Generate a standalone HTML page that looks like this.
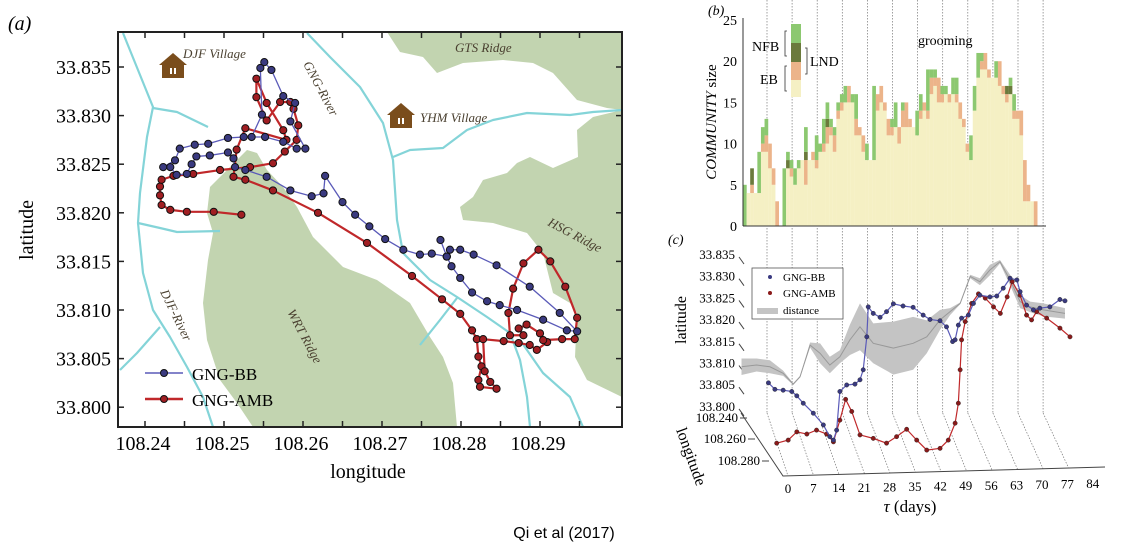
<!DOCTYPE html>
<html><head><meta charset="utf-8"><style>
html,body{margin:0;padding:0;background:#fff;}
svg{display:block;font-family:"Liberation Serif",serif;}
</style></head><body>
<svg id="fig" width="1128" height="550" viewBox="0 0 1128 550" xmlns="http://www.w3.org/2000/svg">
<g>
<text x="8" y="30" font-size="20" font-style="italic">(a)</text>
<rect x="118" y="32" width="504" height="395" fill="#fff"/>
<g fill="#c2d4b0" stroke="none">
<polygon points="387,32 622,32 622,110 607,108 577,100 553,73 533,63 503,60 463,63 437,73 423,57 400,52"/>
<polygon points="622,110 593,117 577,130 578,157 553,168 530,157 517,163 507,173 483,180 473,197 460,207 463,220 493,223 527,233 543,253 553,293 570,303 577,313 575,357 587,380 622,397"/>
<polygon points="247,150 257,153 267,170 283,187 297,207 313,237 343,267 377,280 410,303 430,337 443,357 453,383 457,427 253,427 237,403 220,380 207,340 203,303 208,260 213,233 207,213 210,187 227,170"/>
</g>
<g fill="none" stroke="#84d4d8" stroke-width="2.2" stroke-linejoin="round">
<polyline points="123,33 153,107 147,137 140,193 138,223 143,273 153,310 170,337 187,367 203,397 213,427"/>
<polyline points="153,108 177,112 208,127"/>
<polyline points="138,223 160,228 177,232 220,231"/>
<polyline points="160,327 137,353 120,370"/>
<polyline points="307,33 330,57 360,87 383,123 393,160 397,220 403,253 430,280 457,297 487,317 510,333 520,360 527,397 530,427"/>
<polyline points="393,157 410,150 443,148 467,130 493,120 527,113 570,115 593,112 622,110"/>
<polyline points="457,298 440,320 420,345"/>
<polyline points="520,340 543,373 570,397 583,427"/>
</g>
<g fill="#7a4d1c">
<polygon points="159,65 173,53 187,65"/><rect x="162" y="64" width="22" height="14"/>
<rect x="170" y="68" width="2" height="6" fill="#fff"/><rect x="174" y="68" width="2" height="6" fill="#fff"/>
</g>
<g fill="#7a4d1c">
<polygon points="387,115 401,103 415,115"/><rect x="390" y="114" width="22" height="14"/>
<rect x="398" y="118" width="2" height="6" fill="#fff"/><rect x="402" y="118" width="2" height="6" fill="#fff"/>
</g>
<g font-style="italic" font-size="13" fill="#4a4030">
<text x="183" y="58">DJF Village</text>
<text x="455" y="52">GTS Ridge</text>
<text x="420" y="122">YHM Village</text>
<text x="0" y="0" transform="translate(303,64) rotate(62)">GNG-River</text>
<text x="0" y="0" transform="translate(547,225) rotate(28)">HSG Ridge</text>
<text x="0" y="0" transform="translate(287,312) rotate(62)">WRT Ridge</text>
<text x="0" y="0" transform="translate(160,292) rotate(64)">DJF-River</text>
</g>
<g id="mapTracks"></g>
<g id="mapAxes"></g>
<rect x="118" y="32" width="504" height="395" fill="none" stroke="#222" stroke-width="2"/>
<g>
<line x1="145" y1="373" x2="183" y2="373" stroke="#5a5ab8" stroke-width="1.5"/>
<circle cx="164" cy="373" r="3.5" fill="#3a3a80" stroke="#111"/>
<text x="192" y="380" font-size="17">GNG-BB</text>
<line x1="145" y1="399" x2="183" y2="399" stroke="#c0282a" stroke-width="2.5"/>
<circle cx="164" cy="399" r="3.5" fill="#a01e22" stroke="#111"/>
<text x="192" y="406" font-size="17">GNG-AMB</text>
</g>
<text x="0" y="0" transform="translate(33,230) rotate(-90)" font-size="20" text-anchor="middle">latitude</text>
<text x="368" y="478" font-size="20" text-anchor="middle">longitude</text>
</g>

<g>
<text x="708" y="15" font-size="14" font-style="italic">(b)</text>
<g id="gridLines"></g>
<g id="bars"></g>
<g id="barAxes"></g>
<text x="0" y="0" transform="translate(716,122) rotate(-90)" font-size="15" text-anchor="middle"><tspan font-style="italic">COMMUNITY</tspan> size</text>
<text x="918" y="45" font-size="14">grooming</text>
<g>
<rect x="791" y="24" width="10" height="19" fill="#8cc870"/>
<rect x="791" y="43" width="10" height="19" fill="#6b7a3c"/>
<rect x="791" y="62" width="10" height="18" fill="#ecb48a"/>
<rect x="791" y="80" width="10" height="17" fill="#f5f0c4"/>
<path d="M787,31 h-2 v25 h2 M787,66 h-2 v25 h2 M805,48 h2 v26 h-2" fill="none" stroke="#333" stroke-width="0.8"/>
<text x="752" y="51" font-size="14">NFB</text>
<text x="760" y="84" font-size="14">EB</text>
<text x="810" y="66" font-size="14">LND</text>
</g>
</g>

<g>
<text x="668" y="244" font-size="14" font-style="italic">(c)</text>
<g id="cAxes"></g>
<g id="cSeries"></g>
<g>
<rect x="752" y="268" width="91" height="51" fill="#fff" stroke="#555" stroke-width="0.8"/>
<circle cx="770" cy="277" r="2" fill="#3a3a80"/>
<text x="783" y="281" font-size="11">GNG-BB</text>
<circle cx="770" cy="293" r="2" fill="#8a1a1a"/>
<text x="783" y="297" font-size="11">GNG-AMB</text>
<rect x="757" y="308" width="21" height="6" fill="#c4c4c4"/>
<text x="783" y="314" font-size="11">distance</text>
</g>
<text x="0" y="0" transform="translate(686,320) rotate(-90)" font-size="16" text-anchor="middle">latitude</text>
<text x="0" y="0" transform="translate(676,430) rotate(70)" font-size="16">longitude</text>
<text x="910" y="512" font-size="17" text-anchor="middle"><tspan font-style="italic">τ</tspan> (days)</text>
</g>
<text x="564" y="538" font-size="16" text-anchor="middle" style="font-family:'Liberation Sans',sans-serif">Qi et al (2017)</text>
</svg>
<script>
const bbLon = [108.2782,108.2786,108.2799,108.2816,108.2845,108.2887,108.2925,108.2947,108.2934,108.2904,108.2871,108.2849,108.2833,108.2814,108.2799,108.2788,108.2782,108.2774,108.2782,108.2763,108.2748,108.2727,108.2704,108.2684,108.2666,108.2650,108.2628,108.2626,108.2611,108.2584,108.2554,108.2527,108.2514,108.2512,108.2505,108.2482,108.2465,108.2459,108.2453,108.2440,108.2432,108.2423,108.2438,108.2444,108.2463,108.2480,108.2505,108.2525,108.2552,108.2575,108.2592,108.2603,108.2584,108.2590,108.2575,108.2560,108.2551,108.2546,108.2548,108.2535];
const bbLat = [33.8155,33.8162,33.8162,33.8157,33.8146,33.8124,33.8097,33.8078,33.8079,33.8090,33.8100,33.8105,33.8109,33.8118,33.8133,33.8145,33.8155,33.8172,33.8155,33.8158,33.8157,33.8162,33.8173,33.8186,33.8198,33.8211,33.8238,33.8220,33.8217,33.8223,33.8237,33.8244,33.8247,33.8256,33.8262,33.8259,33.8258,33.8250,33.8240,33.8239,33.8247,33.8247,33.8254,33.8266,33.8270,33.8271,33.8277,33.8278,33.8278,33.8273,33.8266,33.8266,33.8294,33.8313,33.8320,33.8347,33.8355,33.8349,33.8301,33.8278];
const ambLon = [108.2522,108.2487,108.2453,108.2432,108.2421,108.2419,108.2419,108.2421,108.2436,108.2461,108.2495,108.2533,108.2562,108.2577,108.2592,108.2594,108.2588,108.2584,108.2571,108.2554,108.2541,108.2541,108.2554,108.2575,108.2579,108.2527,108.2516,108.2512,108.2527,108.2562,108.2619,108.2681,108.2738,108.2776,108.2799,108.2814,108.2820,108.2822,108.2826,108.2822,108.2824,108.2845,108.2837,108.2830,108.2828,108.2854,108.2873,108.2887,108.2896,108.2909,108.2900,108.2883,108.2873,108.2879,108.2862,108.2860,108.2866,108.2879,108.2898,108.2913,108.2932,108.2947,108.2944,108.2928,108.2904];
const ambLat = [33.8198,33.8201,33.8201,33.8203,33.8208,33.8218,33.8227,33.8234,33.8238,33.8240,33.8244,33.8247,33.8251,33.8263,33.8275,33.8290,33.8307,33.8314,33.8314,33.8295,33.8319,33.8338,33.8313,33.8285,33.8275,33.8287,33.8265,33.8237,33.8234,33.8223,33.8200,33.8169,33.8135,33.8111,33.8096,33.8079,33.8070,33.8052,33.8042,33.8028,33.8021,33.8019,33.8026,33.8037,33.8070,33.8068,33.8066,33.8064,33.8059,33.8067,33.8076,33.8085,33.8081,33.8074,33.8074,33.8097,33.8122,33.8148,33.8162,33.8150,33.8124,33.8092,33.8070,33.8070,33.8069];
const latTicks = [33.835,33.830,33.825,33.820,33.815,33.810,33.805,33.800];
const lonTicks = [108.24,108.25,108.26,108.27,108.28,108.29];

const baseSize = [0,4,4,4,4,9,9,7,5,0, 0,0,7,6,5,7,8,5,8,8, 7,9,9,10,11,9,13,14,15,15, 15,11,11,9,8,8,8,14,15,14, 11,11,12,10,12,12,12,12,11,13, 14,13,16,17,15,15,16,15,16,15, 13,12,9,8,14,18,19,19,18,18, 18,17,16,15,16,13,13,11,3,3, 3,0,0];
const ebExtra = [0,0,1,0,0,1,2,3,2,3, 0,0,0,1,0,0,0,3,0,1, 1,0,1,2,1,2,1,1,0,2, 0,2,1,2,0,0,0,2,2,1, 2,1,0,2,2,3,1,0,0,1, 1,1,2,1,3,1,0,1,0,1, 2,1,1,0,0,0,1,2,1,0, 0,3,1,1,0,1,1,3,5,2, 0,3,0];
const lndExtra = [0,0,2,0,0,0,0,0,0,0, 0,0,1,0,0,0,0,1,0,0, 0,0,0,1,0,0,0,0,0,0, 0,0,0,0,0,0,0,0,0,0, 0,0,0,0,0,0,0,0,0,0, 0,0,0,0,0,0,0,0,0,0, 0,0,0,0,0,0,0,0,0,0, 0,0,0,1,1,0,0,0,0,0, 0,0,0];
const nfbExtra = [5,0,0,0,5,2,2,0,0,0, 0,7,1,1,2,1,0,3,0,0, 3,1,3,2,1,1,1,1,2,0, 1,3,0,0,2,0,9,0,0,0, 0,1,3,0,1,0,0,0,3,2, 0,5,1,1,0,1,1,0,2,2, 0,0,0,3,3,3,1,0,0,0, 2,0,0,0,1,2,0,0,0,0, 0,0,0];
const sizeTicks = [0,5,10,15,20,25];

const bbTau = [0.4,2.2,4.5,6.9,8.3,10.1,12.9,15.7,17.5,18.5,19.4,20.3,22.2,24.5,25.9,26.8,27.8,28.2,29.6,31.5,33.3,35.2,37.9,40.7,43.5,45.4,48.2,50.0,51.7,52.4,53.3,54.2,56.1,57.5,59.3,62.1,64.0,65.8,67.7,69.6,70.5,72.3,74.2,76.0,78.8,81.6,83.0];
const bbTrackLat = [33.8067,33.8052,33.8050,33.8047,33.8037,33.8020,33.7997,33.7970,33.7943,33.7935,33.7958,33.8047,33.8062,33.8064,33.8074,33.8097,33.8173,33.8242,33.8227,33.8218,33.8231,33.8249,33.8244,33.8241,33.8223,33.8213,33.8210,33.8196,33.8162,33.8166,33.8200,33.8216,33.8223,33.8250,33.8269,33.8265,33.8267,33.8285,33.8308,33.8304,33.8277,33.8246,33.8235,33.8239,33.8242,33.8259,33.8256];
const ambTau = [2.7,5.9,8.3,11.1,13.8,16.6,18.5,20.3,21.9,23.6,25.9,29.6,33.3,36.1,38.9,41.7,44.5,48.2,50.5,52.4,53.3,53.8,54.2,55.2,57.0,58.9,60.8,63.1,65.0,66.9,68.3,70.5,72.3,73.7,75.1,77.9,81.6,84.4];
const ambTrackLat = [33.7928,33.7935,33.7954,33.7949,33.7958,33.7949,33.7931,33.7981,33.8029,33.8001,33.7947,33.7939,33.7928,33.7943,33.7960,33.7935,33.7912,33.7916,33.7935,33.7974,33.8020,33.8097,33.8166,33.8208,33.8250,33.8272,33.8262,33.8242,33.8227,33.8265,33.8300,33.8269,33.8223,33.8212,33.8231,33.8216,33.8193,33.8173];
const distTau = [-7.1,-2.9,0.8,4.5,7.3,9.2,12.0,14.8,17.5,20.3,23.1,25.9,29.6,35.2,40.7,44.5,48.2,51.0,53.8,56.6,59.3,62.1,64.9,67.7,70.5,73.3,77.0,83.0];
const distMid = [33.8104,33.8108,33.8104,33.8089,33.8064,33.8081,33.8154,33.8135,33.8108,33.8127,33.8166,33.8196,33.8158,33.8147,33.8158,33.8173,33.8212,33.8231,33.8250,33.8312,33.8300,33.8327,33.8346,33.8304,33.8254,33.8242,33.8235,33.8227];
const distHalf = [0.0019,0.0015,0.0015,0.0006,0.0002,0.0002,0.0006,0.0023,0.0019,0.0015,0.0035,0.0054,0.0046,0.0061,0.0061,0.0038,0.0023,0.0008,0.0002,0.0004,0.0008,0.0012,0.0004,0.0012,0.0015,0.0012,0.0015,0.0012];
const cLatTicks = [33.835,33.830,33.825,33.820,33.815,33.810,33.805,33.800];
const cLonTicks = ["108.240","108.260","108.280"];
const tauTicks = [0,7,14,21,28,35,42,49,56,63,70,77,84];

const NS = "http://www.w3.org/2000/svg";
function mk(tag, attrs, parent){const e=document.createElementNS(NS,tag);for(const k in attrs)e.setAttribute(k,attrs[k]);parent.appendChild(e);return e;}

const ax = lon => 145 + (lon - 108.24) * 7900;
const ay = lat => 67 + (33.835 - lat) * 9720;
const bx = d => 743 + d * 3.59;
const by = v => 226 - v * 8.24;
const cx = t => 767 + t * 3.59;
const cy = lat => 260 + (33.835 - lat) * 4340;

const mapAxes = document.getElementById('mapAxes');
latTicks.forEach(v => {
  const l = mk('line',{x1:118,y1:ay(v),x2:124,y2:ay(v),stroke:'#222','stroke-width':1.5},mapAxes);
  
  
  const r = mk('line',{x1:616,y1:ay(v),x2:622,y2:ay(v),stroke:'#222','stroke-width':1.5},mapAxes);
  
  
  const t = mk('text',{x:111,y:ay(v)+7,'font-size':20,'text-anchor':'end'},mapAxes);
  t.textContent = v.toFixed(3);
  
  
});
lonTicks.forEach(v => {
  const t = mk('text',{x:ax(v)-2,y:450,'font-size':20,'text-anchor':'middle'},mapAxes);
  t.textContent = v.toFixed(2);
  
  
});
for (let v = 108.24; v < 108.2965; v += 0.005) {
  const l = mk('line',{x1:ax(v),y1:421,x2:ax(v),y2:427,stroke:'#222','stroke-width':1.5},mapAxes);
  
  
  const u = mk('line',{x1:ax(v),y1:32,x2:ax(v),y2:38,stroke:'#222','stroke-width':1.5},mapAxes);
  
  
}
const tracks = document.getElementById('mapTracks');
function drawTrack(lons, lats, color, width, fill, name){
  const pts = lons.map((v,i)=>ax(v)+','+ay(lats[i])).join(' ');
  const pl = mk('polyline',{points:pts,fill:'none',stroke:color,'stroke-width':width,'stroke-linejoin':'round'},tracks);
  
  
  lons.forEach((v,i)=>{
    const c = mk('circle',{cx:ax(v),cy:ay(lats[i]),r:3.6,fill:fill,stroke:'#111','stroke-width':1},tracks);
    
    
  });
}
drawTrack(ambLon, ambLat, '#c0282a', 2.2, '#a01e22', 'gng-amb');
drawTrack(bbLon, bbLat, '#5a5ab8', 1.3, '#3a3a80', 'gng-bb');

const grid = document.getElementById('gridLines');
for (let k = 1; k <= 12; k++) {
  const x = cx(0) + (k-1) * 25.1;
  const l = mk('line',{x1:x,y1:0,x2:x,y2:413,stroke:'#777','stroke-width':0.7,'stroke-dasharray':'1.5,1.5'},grid);
  
  
  const d = mk('line',{x1:x,y1:413,x2:x+21+(k-1)*0.4,y2:476-(k-1)*0.75,stroke:'#777','stroke-width':0.7,'stroke-dasharray':'1.5,1.5'},grid);
  
  
}
const bars = document.getElementById('bars');
const layers = [[baseSize,'#f5f0c4','eb-base'],[ebExtra,'#ecb48a','eb-orange'],[lndExtra,'#6b7a3c','lnd'],[nfbExtra,'#8cc870','nfb']];
baseSize.forEach((_,d)=>{
  let acc = 0;
  layers.forEach(([arr,col,nm])=>{
    const v = arr[d] || 0;
    if (v > 0) {
      const r = mk('rect',{x:bx(d),y:by(acc+v),width:3.7,height:by(acc)-by(acc+v),fill:col},bars);
      
      
    }
    acc += v;
  });
});
const barAxes = document.getElementById('barAxes');
const ya = mk('line',{x1:743,y1:18,x2:743,y2:226,stroke:'#333','stroke-width':1},barAxes);


const xa = mk('line',{x1:743,y1:226,x2:1046,y2:226,stroke:'#333','stroke-width':1},barAxes);


sizeTicks.forEach(v=>{
  const t = mk('text',{x:737,y:by(v)+5,'font-size':14,'text-anchor':'end'},barAxes);
  t.textContent = v;
  
  
});

const cAxes = document.getElementById('cAxes');
const axPath = mk('path',{d:'M741,413 L783,476 L1105,467',fill:'none',stroke:'#444','stroke-width':1},cAxes);


cLatTicks.forEach(v=>{
  const l = mk('line',{x1:739,y1:cy(v)-3,x2:744,y2:cy(v)+4,stroke:'#444','stroke-width':1},cAxes);
  
  
  const t = mk('text',{x:735,y:cy(v)-1,'font-size':13,'text-anchor':'end'},cAxes);
  t.textContent = v.toFixed(3);
  
  
});
const lonLabelPos = [[738,422],[746,443],[760,465]];
cLonTicks.forEach((v,i)=>{
  const [xx,yy] = lonLabelPos[i];
  const l = mk('line',{x1:xx+2,y1:yy-4,x2:xx+9,y2:yy-4,stroke:'#444','stroke-width':1},cAxes);
  
  
  const t = mk('text',{x:xx,y:yy,'font-size':13,'text-anchor':'end'},cAxes);
  t.textContent = v;
  
  
});
tauTicks.forEach((v,i)=>{
  const t = mk('text',{x:788+i*25.4,y:493-i*0.4,'font-size':13,'text-anchor':'middle'},cAxes);
  t.textContent = v;
  
  
});
const cS = document.getElementById('cSeries');
const upper = distTau.map((t,i)=>cx(t)+','+cy(distMid[i]+distHalf[i]));
const lower = distTau.map((t,i)=>cx(t)+','+cy(distMid[i]-distHalf[i])).reverse();
const band = mk('polygon',{points:upper.concat(lower).join(' '),fill:'#c4c4c4',stroke:'none'},cS);


const mid = mk('polyline',{points:distTau.map((t,i)=>cx(t)+','+cy(distMid[i])).join(' '),fill:'none',stroke:'#999','stroke-width':1},cS);


function series(taus, lats, line, dot, name){
  const pl = mk('polyline',{points:taus.map((t,i)=>cx(t)+','+cy(lats[i])).join(' '),fill:'none',stroke:line,'stroke-width':1.2},cS);
  
  
  for (let i = 0; i < taus.length; i++) {
    const c = mk('circle',{cx:cx(taus[i]),cy:cy(lats[i]),r:2.2,fill:dot,stroke:'#222','stroke-width':0.4},cS);
    
    
  }
}
series(ambTau, ambTrackLat, '#c0282a', '#8a1a1a', 'gng-amb');
series(bbTau, bbTrackLat, '#5a5ab8', '#3a3a80', 'gng-bb');
</script>
</body></html>
